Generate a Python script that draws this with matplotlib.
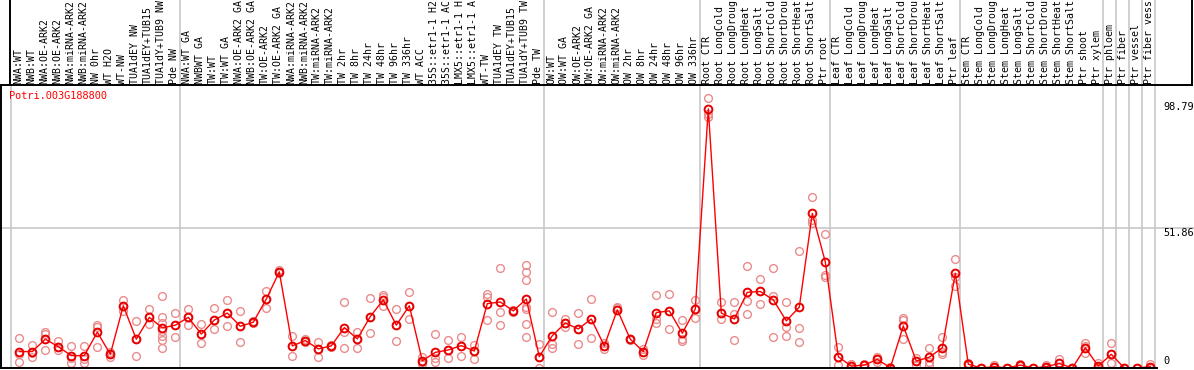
import numpy as np
import matplotlib.pyplot as plt

gene = "Potri.003G188800"

# sample names as shown in the header (long names are cut by the header box)
labels = [
    "NWA:WT", "NWB:WT", "NWA:OE-ARK2", "NWB:OE-ARK2", "NWA:miRNA-ARK2", "NWB:miRNA-ARK2",
    "NW 0hr", "WT H2O", "WT-NW", "TUA1dEY NW", "TUA1dEY+TUB15", "TUA1dY+TUB9 NW", "Pde NW",
    "NWA:WT GA", "NWBWT GA", "TW:WT", "TW:WT GA", "NWA:OE-ARK2 GA", "NWB:OE-ARK2 GA",
    "TW:OE-ARK2", "TW:OE-ARK2 GA", "NWA:miRNA-ARK2", "NWB:miRNA-ARK2", "TW:miRNA-ARK2",
    "TW:miRNA-ARK2", "TW 2hr", "TW 8hr", "TW 24hr", "TW 48hr", "TW 96hr", "TW 336hr",
    "WT ACC", "35S::etr1-1 H2", "35S::etr1-1 AC", "LMX5::etr1-1 H", "LMX5::etr1-1 A",
    "WT-TW", "TUA1dEY TW", "TUA1dEY+TUB15", "TUA1dY+TUB9 TW", "Pde TW",
    "OW:WT", "OW:WT GA", "OW:OE-ARK2", "OW:OE-ARK2 GA", "OW:miRNA-ARK2", "OW:miRNA-ARK2",
    "OW 2hr", "OW 8hr", "OW 24hr", "OW 48hr", "OW 96hr", "OW 336hr",
    "Root CTR", "Root LongCold", "Root LongDroug", "Root LongHeat", "Root LongSalt",
    "Root ShortCold", "Root ShortDrou", "Root ShortHeat", "Root ShortSalt", "Ptr root",
    "Leaf CTR", "Leaf LongCold", "Leaf LongDroug", "Leaf LongHeat", "Leaf LongSalt",
    "Leaf ShortCold", "Leaf ShortDrou", "Leaf ShortHeat", "Leaf ShortSalt", "Ptr leaf",
    "Stem CTR", "Stem LongCold", "Stem LongDroug", "Stem LongHeat", "Stem LongSalt",
    "Stem ShortCold", "Stem ShortDrou", "Stem ShortHeat", "Stem ShortSalt", "Ptr shoot",
    "Ptr xylem", "Ptr phloem", "Ptr fiber", "Ptr vessel", "Ptr fiber vess",
]

means = [
    6.1, 6.1, 10.7, 7.9, 4.6, 4.6, 13.3, 5.1, 23.1, 10.7, 18.8, 14.9, 15.9,
    18.8, 12.6, 17.8, 20.4, 15.5, 17.0, 25.6, 35.7, 8.2, 10.2, 7.1, 8.2, 15.0, 10.8,
    19.1, 25.3, 15.9, 23.1, 2.7, 5.8, 6.7, 8.3, 6.3, 23.9, 24.5, 21.2, 25.6, 4.2,
    12.0, 16.7, 14.5, 18.2, 8.2, 21.6, 10.7, 6.1, 20.6, 21.2, 12.9, 21.9,
    96.2, 20.4, 18.2, 28.1, 28.4, 25.3, 17.5, 22.6, 57.4, 39.4,
    4.2, 0.7, 1.1, 3.2, 0.1, 15.6, 2.6, 4.0, 7.5, 35.2,
    1.4, 0.0, 0.5, 0.0, 1.1, 0.0, 0.5, 1.7, 0.0, 7.5,
    0.7, 5.1, 0.0, 0.0, 0.5,
]

reps = [
    [11.1, 5.1, 2.1], [8.6, 5.5, 4.2], [13.2, 12.6, 6.7], [10.2, 7.9, 6.5], [8.3, 3.8, 1.7],
    [8.3, 3.3, 1.7], [16.1, 15.4, 7.7], [6.1, 5.1, 4.2], [25.3, 23.1, 21.0], [17.5, 10.7, 4.5],
    [22.0, 18.8, 16.3], [26.8, 18.8, 16.7, 13.8, 11.9, 10.4, 7.5], [20.4, 15.9, 11.6],
    [22.0, 18.8, 15.9], [16.3, 12.6, 9.2], [22.3, 17.8, 14.4], [25.3, 20.4, 15.5],
    [21.2, 15.5, 9.6], [17.4, 17.0, 16.6], [28.7, 25.6, 22.3], [36.2, 35.7, 35.2],
    [11.9, 8.2, 4.5], [10.9, 10.2, 9.5], [9.6, 7.1, 4.0], [8.6, 8.2, 7.8], [24.5, 13.5, 7.3],
    [13.2, 10.8, 7.3], [26.0, 19.1, 12.9], [27.2, 26.4, 22.9], [22.0, 15.9, 10.1],
    [28.2, 23.1, 18.2], [4.2, 2.3, 1.6], [12.6, 3.6, 2.3], [10.4, 6.7, 3.6], [11.4, 8.3, 4.6],
    [8.6, 6.3, 3.2], [27.5, 26.4, 17.9], [37.2, 20.8, 16.0], [21.6, 21.2, 20.8],
    [38.4, 35.7, 32.5, 22.8, 22.0, 16.3, 11.5], [8.9, 4.2, 0.0],
    [20.8, 8.9, 7.3], [18.2, 16.7, 15.4], [20.6, 14.5, 8.9], [25.6, 18.2, 11.1],
    [9.4, 8.2, 7.0], [22.8, 22.3, 21.6], [10.9, 10.7, 10.5], [7.1, 6.1, 5.0],
    [27.2, 18.2, 16.6], [27.6, 21.2, 14.4], [17.9, 10.7, 10.2], [25.3, 21.9, 18.5],
    [100.2, 94.3, 93.1], [24.4, 20.4, 18.1], [24.4, 20.0, 10.4], [37.9, 25.0, 20.0],
    [32.9, 28.4, 23.6], [37.2, 26.7, 11.6], [24.4, 15.3, 11.9], [43.4, 14.7, 9.5],
    [63.4, 54.9, 53.9], [49.7, 34.5, 33.7],
    [7.7, 4.2, 1.1], [1.4, 0.7, 0.0], [1.4, 1.1, 0.0], [4.2, 3.2, 2.4], [0.3, 0.1, 0.0],
    [18.5, 17.9, 10.8], [3.6, 2.6, 1.1], [7.5, 2.3, 1.1], [11.6, 6.1, 5.1], [40.4, 33.7, 30.5],
    [1.9, 1.4, 1.0], [0.0, 0.0, 0.0], [1.2, 0.3, 0.0], [0.0, 0.0, 0.0], [1.5, 1.1, 0.7],
    [0.0, 0.0, 0.0], [1.2, 0.3, 0.0], [3.2, 1.7, 0.2], [0.0, 0.0, 0.0], [9.2, 8.3, 5.5],
    [1.7, 0.5, 0.0], [9.2, 5.1, 1.7], [0.0, 0.0, 0.0], [0.0, 0.0, 0.0], [1.5, 0.0, 0.0],
]

group_ends = [12, 40, 52, 62, 72, 83, 84, 85, 86, 87]
ytick_vals = [0, 51.86, 98.79]

W, H = 1194, 370
x0, dx = 19.3, 13.0          # pixel of first category, pixels per category
y0, dy = 368.0, 2.694        # pixel of value 0, pixels per unit

def px_to_x(p):
    return (p - x0) / dx

fig = plt.figure(figsize=(W / 100, H / 100), dpi=100)

# main plot area
ax = fig.add_axes([1 / W, (H - 368) / H, 1156 / W, 283 / H])
ax.set_xlim(px_to_x(1), px_to_x(1157))
ax.set_ylim(0, (y0 - 85) / dy)
ax.set_xticks([])
ax.set_yticks([])
for s in ["top", "right"]:
    ax.spines[s].set_visible(False)
for s in ["left", "bottom"]:
    ax.spines[s].set_color("black")
    ax.spines[s].set_linewidth(1.4)

xs = np.arange(len(labels))
grid = "#c8c8c8"
ax.axvline(px_to_x(10.5), color=grid, lw=1.2)
for k in group_ends:
    ax.axvline(k + 0.36, color=grid, lw=1.2)
ax.axhline(51.86, xmin=-0.01, xmax=W / 1156, color=grid, lw=1.2, clip_on=False)

for i, r in enumerate(reps):
    ax.plot([i] * len(r), r, "o", ls="none", ms=5.6, mfc="none", mec="#eb8c8c", mew=1.0)
ax.plot(xs, means, "-", color="#ff0000", lw=1.0)
ax.plot(xs, means, "o", ls="none", ms=5.6, mfc="none", mec="#e60000", mew=1.4)

ax.text(px_to_x(9), (y0 - 96) / dy, gene, color="#ff0000", family="DejaVu Sans Mono",
        fontsize=7.4, va="center", ha="left")

# y labels on the right
for v in ytick_vals:
    va = "bottom" if v == 0 else "top"
    yy = (y0 - 366) / dy if v == 0 else v
    ax.text(px_to_x(1163), yy, f"{v:g}", family="DejaVu Sans Mono", fontsize=7.4,
            ha="left", va=va, clip_on=False)

# header with rotated labels
hx = fig.add_axes([0, (H - 85) / H, 1192 / W, 85 / H])
hx.set_xlim(px_to_x(0), px_to_x(1192))
hx.set_ylim(0, 85)
hx.set_xticks([])
hx.set_yticks([])
for s in ["top", "left"]:
    hx.spines[s].set_visible(False)
for s in ["bottom", "right"]:
    hx.spines[s].set_color("black")
    hx.spines[s].set_linewidth(1.4)
hx.axvline(px_to_x(10), color="black", lw=1.4)
for k in group_ends:
    hx.axvline(k + 0.36, color=grid, lw=1.2)
for i, lab in enumerate(labels):
    hx.text(i - 0.1, 1.5, lab, rotation=90, ha="center", va="bottom",
            family="DejaVu Sans Mono", fontsize=7.1)

fig.savefig("out.png", dpi=100)
